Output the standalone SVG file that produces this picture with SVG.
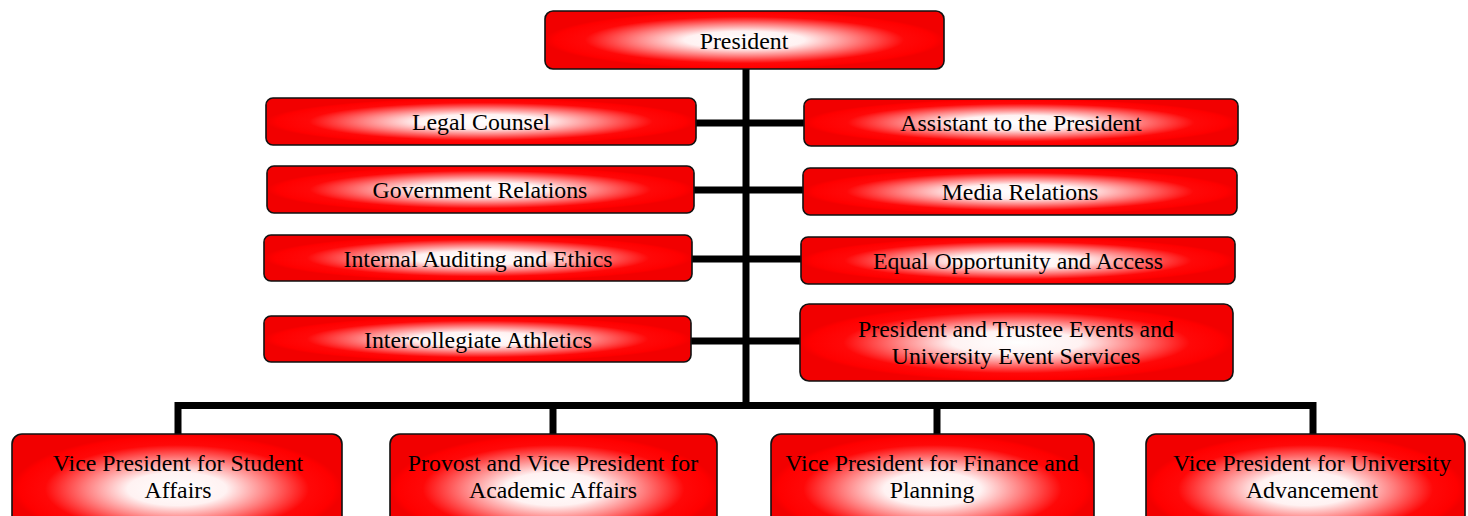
<svg xmlns="http://www.w3.org/2000/svg" width="1468" height="516" viewBox="0 0 1468 516">
<defs>
<radialGradient id="g" cx="0.5" cy="0.5" r="0.5" gradientUnits="objectBoundingBox">
<stop offset="0" stop-color="#ffffff"/>
<stop offset="0.3" stop-color="#fff2f2"/>
<stop offset="0.55" stop-color="#ff8080"/>
<stop offset="0.8" stop-color="#ff0808"/>
<stop offset="0.95" stop-color="#ff0000"/>
<stop offset="1" stop-color="#f20000"/>
</radialGradient>
<style>
.b{fill:url(#g);stroke:#111;stroke-width:1.6}
.t{font-family:"Liberation Serif","Times New Roman",serif;font-size:23.8px;fill:#000;text-anchor:middle}
.c{stroke:#000;stroke-width:7;fill:none}
</style>
</defs>
<g id="connectors">
<line class="c" x1="746" y1="69" x2="746" y2="409"/>
<line class="c" x1="696" y1="123" x2="804" y2="123"/>
<line class="c" x1="694" y1="190" x2="803" y2="190"/>
<line class="c" x1="692" y1="259" x2="801" y2="259"/>
<line class="c" x1="691" y1="341" x2="800" y2="341"/>
<path class="c" d="M178 434 V405.5 H1313 V434"/>
<line class="c" x1="553" y1="405" x2="553" y2="434"/>
<line class="c" x1="937" y1="405" x2="937" y2="434"/>
</g>
<g id="president"><rect class="b" x="545" y="11" width="399" height="58" rx="8"/><text class="t" x="744" y="49">President</text></g>
<g id="legal"><rect class="b" x="266" y="98" width="430" height="47" rx="7"/><text class="t" x="481" y="130">Legal Counsel</text></g>
<g id="assistant"><rect class="b" x="804" y="99" width="434" height="47" rx="7"/><text class="t" x="1021" y="131">Assistant to the President</text></g>
<g id="government"><rect class="b" x="267" y="166" width="427" height="47" rx="7"/><text class="t" x="480" y="198">Government Relations</text></g>
<g id="media"><rect class="b" x="803" y="168" width="434" height="47" rx="7"/><text class="t" x="1020" y="200">Media Relations</text></g>
<g id="auditing"><rect class="b" x="264" y="235" width="428" height="46" rx="7"/><text class="t" x="478" y="267">Internal Auditing and Ethics</text></g>
<g id="equal"><rect class="b" x="801" y="237" width="434" height="47" rx="7"/><text class="t" x="1018" y="269">Equal Opportunity and Access</text></g>
<g id="athletics"><rect class="b" x="264" y="316" width="427" height="46" rx="7"/><text class="t" x="478" y="348">Intercollegiate Athletics</text></g>
<g id="events"><rect class="b" x="800" y="304" width="433" height="77" rx="9"/><text class="t" x="1016" y="337">President and Trustee Events and</text><text class="t" x="1016" y="364">University Event Services</text></g>
<g id="vp-student"><rect class="b" x="12" y="434" width="330" height="110" rx="10"/><text class="t" x="178" y="471">Vice President for Student</text><text class="t" x="178" y="498">Affairs</text></g>
<g id="provost"><rect class="b" x="390" y="434" width="327" height="110" rx="10"/><text class="t" x="553" y="471">Provost and Vice President for</text><text class="t" x="553" y="498">Academic Affairs</text></g>
<g id="vp-finance"><rect class="b" x="771" y="434" width="323" height="110" rx="10"/><text class="t" x="932" y="471">Vice President for Finance and</text><text class="t" x="932" y="498">Planning</text></g>
<g id="vp-advancement"><rect class="b" x="1146" y="434" width="319" height="110" rx="10"/><text class="t" x="1312" y="471">Vice President for University</text><text class="t" x="1312" y="498">Advancement</text></g>
</svg>
